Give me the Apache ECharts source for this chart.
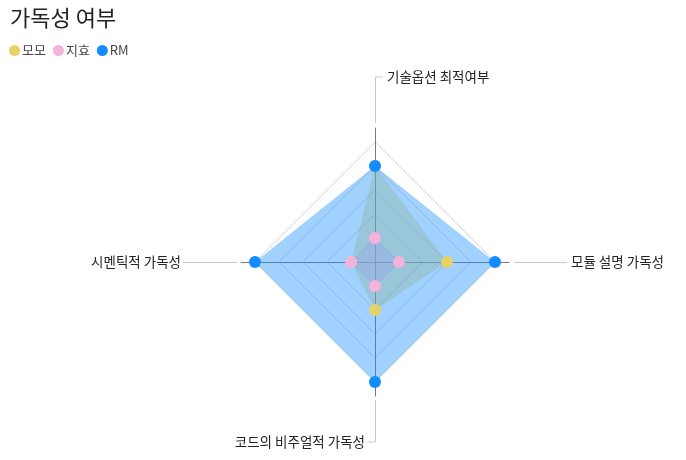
<!DOCTYPE html>
<html>
<head>
<meta charset="utf-8">
<script src="https://cdn.jsdelivr.net/npm/echarts@6/dist/echarts.min.js"></script>
<style>
html,body{margin:0;padding:0;background:#fff;}
#chart{width:686px;height:460px;}
</style>
</head>
<body>
<div id="chart"></div>
<script>
// Indicators, in ECharts order (counter-clockwise from top)
var indicatorNames = ['기술옵션 최적여부', '시멘틱적 가독성', '코드의 비주얼적 가독성', '모듈 설명 가독성'];
var maxValue = 5;
var seriesNames = ['모모', '지효', 'RM'];
var momoValues = [4, 1, 2, 3];
var jihyoValues = [1, 1, 1, 1];
var rmValues = [4, 5, 5, 5];
var colors = ['#E8D166', '#F4B3DB', '#118DFF'];

var FONT = '"Noto Sans CJK KR", "Noto Sans", sans-serif';
var cx = 375, cy = 262, R = 120, RAxis = 134;

var chart = echarts.init(document.getElementById('chart'));

var lineStyle = { stroke: '#c8c8c8', lineWidth: 1 };
var labelStyle = function (text, x, y, align) {
  return { type: 'text', silent: true, style: { text: text, x: x, y: y, align: align, verticalAlign: 'middle', font: '13.5px ' + FONT, fill: '#252423' } };
};

var graphics = [
  // top
  { type: 'polyline', silent: true, shape: { points: [[cx + 0.5, cy - 139], [cx + 0.5, cy - 185], [cx + 8, cy - 185]] }, style: lineStyle },
  labelStyle(indicatorNames[0], cx + 12, cy - 185, 'left'),
  // left
  { type: 'polyline', silent: true, shape: { points: [[cx - 138, cy + 0.5], [cx - 192, cy + 0.5]] }, style: lineStyle },
  labelStyle(indicatorNames[1], cx - 194, cy, 'right'),
  // bottom
  { type: 'polyline', silent: true, shape: { points: [[cx + 0.5, cy + 138], [cx + 0.5, cy + 180], [cx - 8, cy + 180]] }, style: lineStyle },
  labelStyle(indicatorNames[2], cx - 10, cy + 180, 'right'),
  // right
  { type: 'polyline', silent: true, shape: { points: [[cx + 139, cy + 0.5], [cx + 192, cy + 0.5]] }, style: lineStyle },
  labelStyle(indicatorNames[3], cx + 196, cy, 'left')
];

var indicators = indicatorNames.map(function (n) { return { name: n, max: maxValue }; });
var valuesList = [momoValues, jihyoValues, rmValues];

chart.setOption({
  animation: false,
  title: {
    text: '가독성 여부', left: 5, top: 2,
    textStyle: { fontFamily: FONT, fontSize: 22, fontWeight: 'normal', color: '#252423' }
  },
  legend: {
    data: seriesNames, left: 4, top: 39, icon: 'circle', itemWidth: 11, itemHeight: 11, itemGap: 7,
    textStyle: { fontFamily: FONT, fontSize: 13, color: '#444', padding: [0, 0, 0, -3] }
  },
  radar: [
    {
      center: [cx, cy], radius: R, startAngle: 90, shape: 'polygon', splitNumber: 5,
      indicator: indicators,
      axisName: { show: false },
      axisLine: { show: false },
      splitLine: { lineStyle: { color: '#d6d6d6', width: 1 } },
      splitArea: { show: false }
    },
    {
      center: [cx, cy], radius: RAxis, startAngle: 90, shape: 'polygon', splitNumber: 1,
      indicator: indicators,
      axisName: { show: false },
      axisLine: { show: true, lineStyle: { color: '#7a7a7a', width: 1 } },
      splitLine: { show: false },
      splitArea: { show: false }
    }
  ],
  graphic: graphics,
  series: seriesNames.map(function (name, i) {
    return {
      type: 'radar', name: name, radarIndex: 0,
      symbol: 'circle', symbolSize: 12,
      itemStyle: { color: colors[i] },
      lineStyle: { width: 0, opacity: 0 },
      areaStyle: { color: colors[i], opacity: 0.4 },
      data: [{ value: valuesList[i], name: name }]
    };
  })
});
</script>
</body>
</html>
